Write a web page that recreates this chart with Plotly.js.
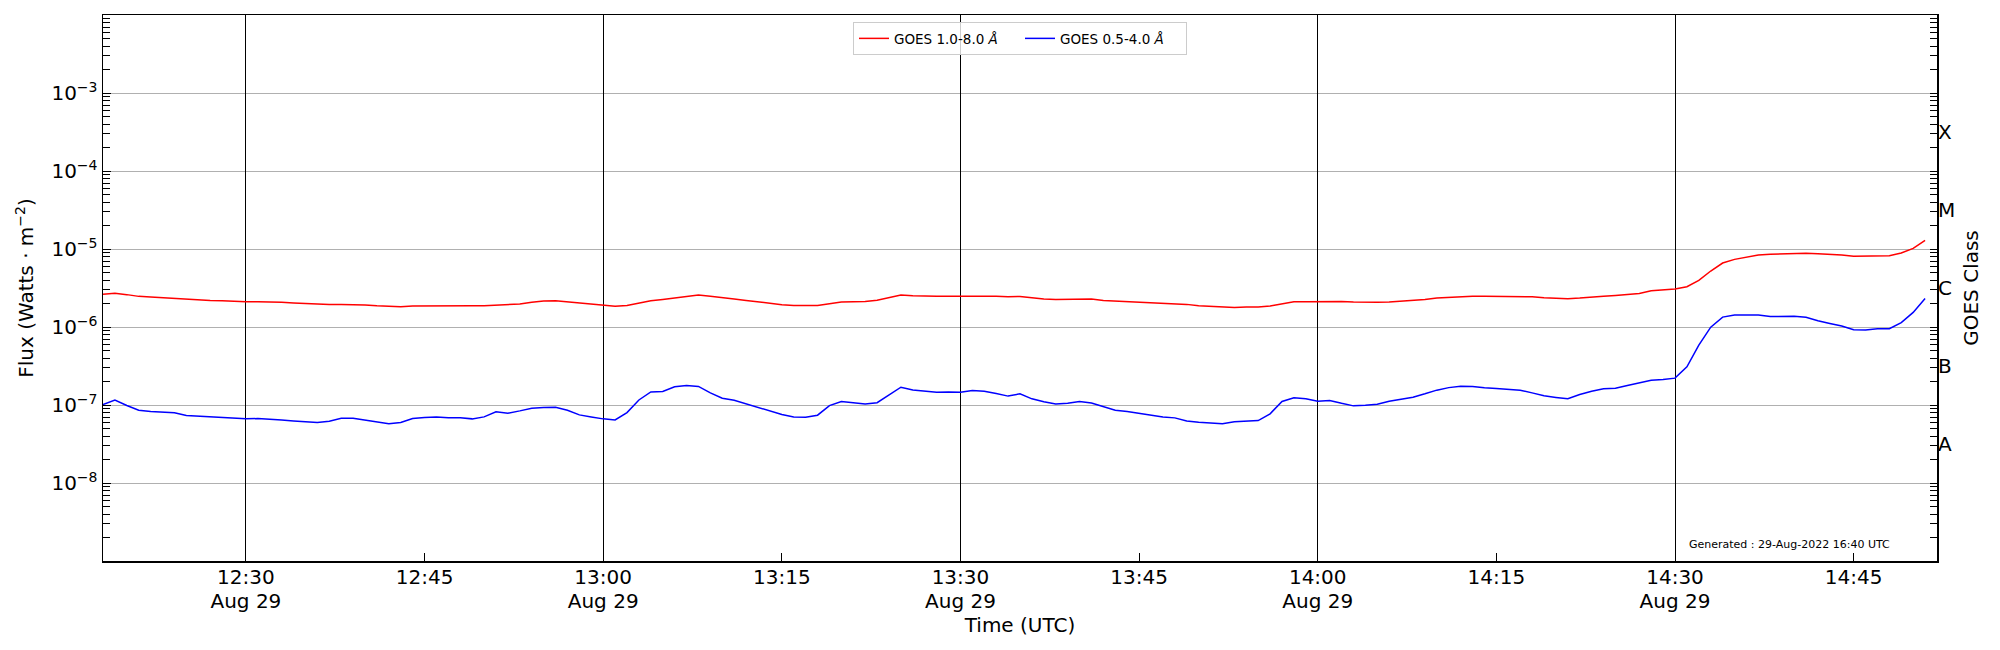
<!DOCTYPE html>
<html>
<head>
<meta charset="utf-8">
<script src="https://cdn.plot.ly/plotly-3.0.1.min.js"></script>
<style>
  html, body { margin: 0; padding: 0; background: #fff; }
  #plot { width: 2000px; height: 650px; }
</style>
</head>
<body>
<div id="plot"></div>
<script>
// ── data: GOES XRS, 1-min samples, 29 Aug 2022 12:18–14:51 UTC ──
const DAY = '2022-08-29 ';
const minutes = [
  '12:18','12:19','12:20','12:21','12:22','12:23','12:24','12:25','12:26','12:27',
  '12:28','12:29','12:30','12:31','12:32','12:33','12:34','12:35','12:36','12:37',
  '12:38','12:39','12:40','12:41','12:42','12:43','12:44','12:45','12:46','12:47',
  '12:48','12:49','12:50','12:51','12:52','12:53','12:54','12:55','12:56','12:57',
  '12:58','12:59','13:00','13:01','13:02','13:03','13:04','13:05','13:06','13:07',
  '13:08','13:09','13:10','13:11','13:12','13:13','13:14','13:15','13:16','13:17',
  '13:18','13:19','13:20','13:21','13:22','13:23','13:24','13:25','13:26','13:27',
  '13:28','13:29','13:30','13:31','13:32','13:33','13:34','13:35','13:36','13:37',
  '13:38','13:39','13:40','13:41','13:42','13:43','13:44','13:45','13:46','13:47',
  '13:48','13:49','13:50','13:51','13:52','13:53','13:54','13:55','13:56','13:57',
  '13:58','13:59','14:00','14:01','14:02','14:03','14:04','14:05','14:06','14:07',
  '14:08','14:09','14:10','14:11','14:12','14:13','14:14','14:15','14:16','14:17',
  '14:18','14:19','14:20','14:21','14:22','14:23','14:24','14:25','14:26','14:27',
  '14:28','14:29','14:30','14:31','14:32','14:33','14:34','14:35','14:36','14:37',
  '14:38','14:39','14:40','14:41','14:42','14:43','14:44','14:45','14:46','14:47',
  '14:48','14:49','14:50','14:51'
];

// 1.0-8.0 Å channel (W/m²)
const xrsb = [
  2.62e-6, 2.70e-6, 2.60e-6, 2.47e-6, 2.43e-6, 2.37e-6, 2.33e-6, 2.28e-6, 2.24e-6, 2.19e-6,
  2.17e-6, 2.13e-6, 2.11e-6, 2.11e-6, 2.11e-6, 2.07e-6, 2.03e-6, 1.99e-6, 1.97e-6, 1.95e-6,
  1.95e-6, 1.95e-6, 1.91e-6, 1.87e-6, 1.84e-6, 1.82e-6, 1.86e-6, 1.87e-6, 1.87e-6, 1.87e-6,
  1.87e-6, 1.87e-6, 1.87e-6, 1.91e-6, 1.93e-6, 1.97e-6, 2.07e-6, 2.15e-6, 2.17e-6, 2.10e-6,
  2.03e-6, 1.95e-6, 1.87e-6, 1.84e-6, 1.89e-6, 2.03e-6, 2.17e-6, 2.26e-6, 2.37e-6, 2.47e-6,
  2.57e-6, 2.47e-6, 2.35e-6, 2.28e-6, 2.19e-6, 2.09e-6, 2.01e-6, 1.93e-6, 1.89e-6, 1.89e-6,
  1.89e-6, 1.99e-6, 2.09e-6, 2.11e-6, 2.13e-6, 2.21e-6, 2.37e-6, 2.57e-6, 2.52e-6, 2.47e-6,
  2.47e-6, 2.47e-6, 2.47e-6, 2.50e-6, 2.52e-6, 2.47e-6, 2.45e-6, 2.46e-6, 2.37e-6, 2.28e-6,
  2.26e-6, 2.26e-6, 2.28e-6, 2.28e-6, 2.19e-6, 2.15e-6, 2.13e-6, 2.09e-6, 2.03e-6, 1.99e-6,
  1.97e-6, 1.95e-6, 1.87e-6, 1.84e-6, 1.80e-6, 1.78e-6, 1.80e-6, 1.80e-6, 1.86e-6, 1.99e-6,
  2.11e-6, 2.11e-6, 2.11e-6, 2.15e-6, 2.13e-6, 2.09e-6, 2.07e-6, 2.07e-6, 2.09e-6, 2.13e-6,
  2.17e-6, 2.26e-6, 2.35e-6, 2.40e-6, 2.45e-6, 2.47e-6, 2.47e-6, 2.47e-6, 2.49e-6, 2.49e-6,
  2.44e-6, 2.37e-6, 2.33e-6, 2.31e-6, 2.35e-6, 2.39e-6, 2.47e-6, 2.54e-6, 2.59e-6, 2.69e-6,
  2.91e-6, 2.97e-6, 3.06e-6, 3.28e-6, 3.96e-6, 5.22e-6, 6.61e-6, 7.36e-6, 7.89e-6, 8.38e-6,
  8.55e-6, 8.64e-6, 8.71e-6, 8.80e-6, 8.71e-6, 8.55e-6, 8.38e-6, 8.05e-6, 8.05e-6, 8.13e-6,
  8.21e-6, 8.88e-6, 1.02e-5, 1.29e-5
];

// 0.5-4.0 Å channel (W/m²)
const xrsa = [
  1.01e-7, 1.16e-7, 9.84e-8, 8.57e-8, 8.24e-8, 8.09e-8, 7.93e-8, 7.33e-8, 7.18e-8, 7.11e-8,
  7.04e-8, 6.84e-8, 6.64e-8, 6.71e-8, 6.64e-8, 6.44e-8, 6.25e-8, 6.08e-8, 5.96e-8, 6.19e-8,
  6.77e-8, 6.77e-8, 6.38e-8, 6.02e-8, 5.73e-8, 5.96e-8, 6.70e-8, 6.90e-8, 7.04e-8, 6.84e-8,
  6.84e-8, 6.64e-8, 7.04e-8, 8.17e-8, 7.85e-8, 8.41e-8, 9.10e-8, 9.28e-8, 9.36e-8, 8.57e-8,
  7.47e-8, 7.04e-8, 6.64e-8, 6.44e-8, 8.00e-8, 1.16e-7, 1.47e-7, 1.49e-7, 1.71e-7, 1.78e-7,
  1.73e-7, 1.43e-7, 1.22e-7, 1.15e-7, 1.03e-7, 9.28e-8, 8.33e-8, 7.55e-8, 7.04e-8, 6.97e-8,
  7.40e-8, 9.84e-8, 1.11e-7, 1.06e-7, 1.03e-7, 1.07e-7, 1.35e-7, 1.69e-7, 1.56e-7, 1.50e-7,
  1.46e-7, 1.47e-7, 1.46e-7, 1.53e-7, 1.50e-7, 1.40e-7, 1.30e-7, 1.39e-7, 1.20e-7, 1.10e-7,
  1.03e-7, 1.05e-7, 1.11e-7, 1.06e-7, 9.55e-8, 8.57e-8, 8.24e-8, 7.85e-8, 7.33e-8, 7.04e-8,
  6.84e-8, 6.25e-8, 6.02e-8, 5.85e-8, 5.73e-8, 6.08e-8, 6.19e-8, 6.32e-8, 7.70e-8, 1.11e-7,
  1.24e-7, 1.20e-7, 1.12e-7, 1.14e-7, 1.05e-7, 9.75e-8, 9.90e-8, 1.02e-7, 1.12e-7, 1.18e-7,
  1.26e-7, 1.39e-7, 1.55e-7, 1.67e-7, 1.74e-7, 1.73e-7, 1.66e-7, 1.63e-7, 1.59e-7, 1.55e-7,
  1.43e-7, 1.31e-7, 1.25e-7, 1.20e-7, 1.36e-7, 1.50e-7, 1.61e-7, 1.64e-7, 1.78e-7, 1.92e-7,
  2.08e-7, 2.12e-7, 2.21e-7, 3.08e-7, 5.85e-7, 9.95e-7, 1.34e-6, 1.42e-6, 1.43e-6, 1.42e-6,
  1.36e-6, 1.36e-6, 1.37e-6, 1.33e-6, 1.20e-6, 1.11e-6, 1.03e-6, 9.21e-7, 9.16e-7, 9.49e-7,
  9.49e-7, 1.14e-6, 1.54e-6, 2.32e-6
];

// axis ticks
const xTickTimes = ['12:30','12:45','13:00','13:15','13:30','13:45','14:00','14:15','14:30','14:45'];
const xTickText  = ['12:30<br>Aug 29','12:45','13:00<br>Aug 29','13:15','13:30<br>Aug 29',
                    '13:45','14:00<br>Aug 29','14:15','14:30<br>Aug 29','14:45'];
const xGridTimes = ['12:30','13:00','13:30','14:00','14:30'];
const fluxTicks  = [1e-8, 1e-7, 1e-6, 1e-5, 1e-4, 1e-3];
const fluxText   = ['10<sup>−8</sup>','10<sup>−7</sup>','10<sup>−6</sup>','10<sup>−5</sup>','10<sup>−4</sup>','10<sup>−3</sup>'];
const classNames = ['A','B','C','M','X'];
const classPos   = [Math.pow(10, -7.5), Math.pow(10, -6.5), Math.pow(10, -5.5), Math.pow(10, -4.5), Math.pow(10, -3.5)];

const FONT = 'DejaVu Sans, Verdana, sans-serif';
const X_RANGE = [DAY + '12:18', DAY + '14:52'];
const Y_RANGE = [-9, -2];
const times = minutes.map(m => DAY + m);

// log ticks 1..9 per decade (for the minor marks)
const minorVals = [];
for (let k = -9; k <= -3; k++) {
    for (let d = 1; d <= 9; d++) minorVals.push(d * Math.pow(10, k));
}

// tighter line spacing for the two-line date labels: small base font, 20px spans
const big = s => s.split('<br>').map(p => '<span style="font-size:20px">' + p + '</span>').join('<br>');

// red on the main x/y pair, blue on the overlaid x2/y2 pair so both get drawn
const traces = [
    { x: times, y: xrsb, xaxis: 'x', yaxis: 'y', type: 'scatter', mode: 'lines',
      name: 'GOES 1.0-8.0 <i>Å</i>', line: { color: '#ff0000', width: 1.5 } },
    { x: times, y: xrsa, xaxis: 'x2', yaxis: 'y2', type: 'scatter', mode: 'lines',
      name: 'GOES 0.5-4.0 <i>Å</i>', line: { color: '#0000ff', width: 1.5 } }
];

const layout = {
    width: 2000, height: 650,
    margin: { l: 103, r: 62.7, t: 15, b: 89 },
    paper_bgcolor: '#ffffff', plot_bgcolor: '#ffffff',
    font: { family: FONT, size: 20, color: '#000' },
    showlegend: true,
    legend: {
        orientation: 'h', x: 0.5, xanchor: 'center', y: 0.987, yanchor: 'top',
        entrywidth: 121, entrywidthmode: 'pixels',
        bgcolor: 'rgba(255,255,255,0.8)', bordercolor: '#cccccc', borderwidth: 1,
        font: { family: FONT, size: 13.5, color: '#000' }
    },
    xaxis: {
        type: 'date', range: X_RANGE,
        tickmode: 'array', tickvals: xTickTimes.map(t => DAY + t), ticktext: xTickText.map(big),
        ticks: 'inside', ticklen: 8, tickwidth: 1, tickcolor: '#000',
        showgrid: false, zeroline: false,
        showline: true, linecolor: '#000', linewidth: 1.5, mirror: true,
        tickfont: { family: FONT, size: 18, color: '#000' },
        title: { text: 'Time (UTC)', font: { family: FONT, size: 20 }, standoff: 4 }
    },
    xaxis2: {
        type: 'date', range: X_RANGE, overlaying: 'x', side: 'bottom', anchor: 'y2',
        tickmode: 'array', tickvals: xGridTimes.map(t => DAY + t),
        showticklabels: false, ticks: '',
        showgrid: true, gridcolor: '#000', gridwidth: 1,
        showline: false, zeroline: false
    },
    yaxis: {
        type: 'log', range: Y_RANGE,
        tickmode: 'array', tickvals: fluxTicks, ticktext: fluxText,
        ticks: 'inside', ticklen: 8, tickwidth: 1, tickcolor: '#000',
        minor: { tickmode: 'array', tickvals: minorVals, ticks: 'inside', ticklen: 7,
                 tickwidth: 1, tickcolor: '#000', showgrid: false },
        showgrid: true, gridcolor: '#b0b0b0', gridwidth: 1,
        zeroline: false,
        showline: true, linecolor: '#000', linewidth: 1.5, mirror: true,
        tickfont: { family: FONT, size: 20, color: '#000' },
        title: { text: 'Flux (Watts · m<sup>−2</sup>)', font: { family: FONT, size: 20 }, standoff: 12 }
    },
    yaxis2: {
        type: 'log', range: Y_RANGE, overlaying: 'y', side: 'right', anchor: 'x2',
        tickmode: 'array', tickvals: classPos, ticktext: classNames,
        ticks: '',
        minor: { tickmode: 'array', tickvals: minorVals, ticks: 'inside', ticklen: 7,
                 tickwidth: 1, tickcolor: '#000', showgrid: false },
        showgrid: false, zeroline: false, showline: false,
        tickfont: { family: FONT, size: 20, color: '#000' },
        title: { text: 'GOES Class', font: { family: FONT, size: 20 }, standoff: 9 }
    },
    annotations: [{
        xref: 'paper', yref: 'paper', x: 0.9196, y: 0.031,
        xanchor: 'center', yanchor: 'middle', showarrow: false,
        text: 'Generated : 29-Aug-2022 16:40 UTC',
        font: { family: FONT, size: 11, color: '#000' }
    }]
};

Plotly.newPlot('plot', traces, layout, { displayModeBar: false, staticPlot: true });
</script>
</body>
</html>
